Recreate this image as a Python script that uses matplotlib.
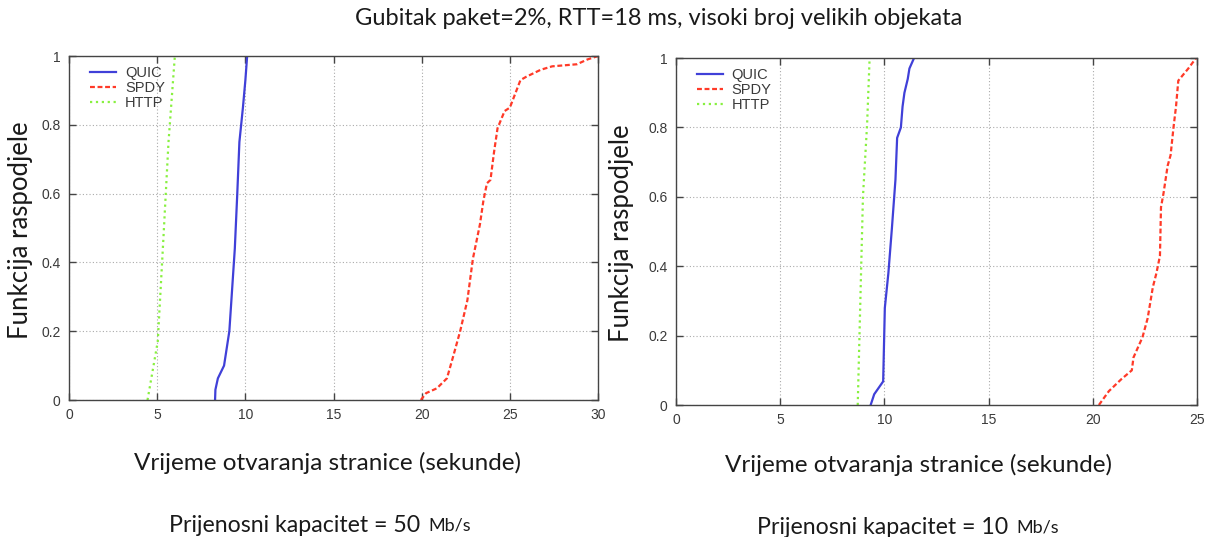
import numpy as np
import matplotlib.pyplot as plt

# CDF curves: (seconds, fraction)
# 50 Mb/s panel
quic_50_x = [8.28, 8.30, 8.44, 8.79, 9.09, 9.40, 9.54, 9.66, 9.86, 10.0, 10.1]
quic_50_y = [0.0, 0.03, 0.063, 0.10, 0.20, 0.44, 0.60, 0.75, 0.85, 0.93, 1.0]
http_50_x = [4.45, 5.03, 5.34, 5.64, 6.0]
http_50_y = [0.0, 0.17, 0.46, 0.75, 1.0]
spdy_50_x = [19.95, 20.25, 20.86, 21.43, 21.78, 22.18, 22.59, 22.9, 23.1, 23.3, 23.5,
             23.7, 23.9, 24.1, 24.3, 24.7, 25.0, 25.3, 25.6, 25.94, 26.75, 27.4,
             28.8, 29.4, 30.0]
spdy_50_y = [0.0, 0.02, 0.034, 0.063, 0.126, 0.20, 0.29, 0.41, 0.46, 0.51, 0.58,
             0.63, 0.64, 0.72, 0.79, 0.84, 0.85, 0.89, 0.93, 0.94, 0.96, 0.97,
             0.976, 0.99, 1.0]

# 10 Mb/s panel
quic_10_x = [9.34, 9.51, 9.94, 10.02, 10.19, 10.36, 10.53, 10.61, 10.79, 10.87,
             10.96, 11.12, 11.2, 11.42]
quic_10_y = [0.0, 0.031, 0.068, 0.28, 0.38, 0.51, 0.65, 0.77, 0.80, 0.86,
             0.90, 0.94, 0.97, 1.0]
http_10_x = [8.72, 8.97, 9.17, 9.29]
http_10_y = [0.0, 0.6, 0.81, 1.0]
spdy_10_x = [20.29, 20.77, 21.36, 21.87, 21.95, 22.38, 22.63, 22.88, 23.05, 23.22,
             23.27, 23.39, 23.59, 23.73, 23.87, 23.99, 24.1, 24.58, 24.95]
spdy_10_y = [0.0, 0.04, 0.074, 0.10, 0.137, 0.195, 0.25, 0.34, 0.38, 0.43,
             0.57, 0.61, 0.69, 0.72, 0.80, 0.86, 0.935, 0.97, 1.0]

title = "Gubitak paket=2%, RTT=18 ms, visoki broj velikih objekata"
xlab = "Vrijeme otvaranja stranice (sekunde)"
ylab = "Funkcija raspodjele"
capacity = ["50", "10"]

c_quic = "#4040d8"
c_spdy = "#ff3a28"
c_http = "#88f040"
label_font = "Lato"
tick_font = "Liberation Sans"

fig = plt.figure(figsize=(12.18, 5.37), dpi=100)
fig.patch.set_facecolor("white")

ax1 = fig.add_axes([0.0567, 0.2551, 0.4343, 0.6406])
ax2 = fig.add_axes([0.555, 0.2458, 0.4278, 0.646])

panels = [
    (ax1, quic_50_x, quic_50_y, spdy_50_x, spdy_50_y, http_50_x, http_50_y, 30),
    (ax2, quic_10_x, quic_10_y, spdy_10_x, spdy_10_y, http_10_x, http_10_y, 25),
]

for ax, qx, qy, sx, sy, hx, hy, xmax in panels:
    ax.plot(qx, qy, "-", color=c_quic, lw=1.6, label="QUIC")
    ax.plot(sx, sy, "--", color=c_spdy, lw=1.6, dashes=(2.2, 1.2), label="SPDY")
    ax.plot(hx, hy, ":", color=c_http, lw=1.6, label="HTTP")
    ax.set_xlim(0, xmax)
    ax.set_ylim(0, 1)
    ax.set_xticks(np.arange(0, xmax + 1, 5))
    ax.set_yticks([0, 0.2, 0.4, 0.6, 0.8, 1])
    ax.set_yticklabels(["0", "0.2", "0.4", "0.6", "0.8", "1"])
    ax.grid(True, linestyle=(0, (1, 2)), color="#aaaaaa", lw=0.8)
    ax.tick_params(direction="in", length=5, width=1, top=True, right=True,
                   labelsize=10, labelcolor="#3a3a3a", color="#444444", pad=6)
    for lbl in ax.get_xticklabels() + ax.get_yticklabels():
        lbl.set_family(tick_font)
    for sp in ax.spines.values():
        sp.set_color("#444444")
        sp.set_linewidth(1.0)
    leg = ax.legend(loc="upper left", frameon=False,
                    prop={"family": tick_font, "size": 10.5},
                    handlelength=1.8, handletextpad=0.6, labelspacing=0.05,
                    borderaxespad=0.3, bbox_to_anchor=(0.02, 1.0))
    for t in leg.get_texts():
        t.set_color("#3a3a3a")

fig.text(0.541, 0.966, title, ha="center", va="center", fontsize=17,
         family=label_font, color="#1a1a1a")

for cx, xy, px, cy, cap in [(0.269, 0.138, 0.3448, 0.022, capacity[0]),
                            (0.754, 0.134, 0.8276, 0.018, capacity[1])]:
    fig.text(cx, xy, xlab, ha="center", va="center", fontsize=17.5,
             family=label_font, color="#1a1a1a")
    fig.text(px, cy, "Prijenosni kapacitet = " + cap,
             ha="right", va="center", fontsize=16.7, family=label_font, color="#1a1a1a")
    fig.text(px + 0.0065, cy, "Mb/s", ha="left", va="center", fontsize=13,
             family=label_font, color="#1a1a1a")

fig.text(0.0165, 0.572, ylab, rotation=90, ha="center", va="center", fontsize=18.5,
         family=label_font, color="#1a1a1a")
fig.text(0.51, 0.566, ylab, rotation=90, ha="center", va="center", fontsize=18.5,
         family=label_font, color="#1a1a1a")

fig.savefig("out.png", dpi=100, facecolor="white")
